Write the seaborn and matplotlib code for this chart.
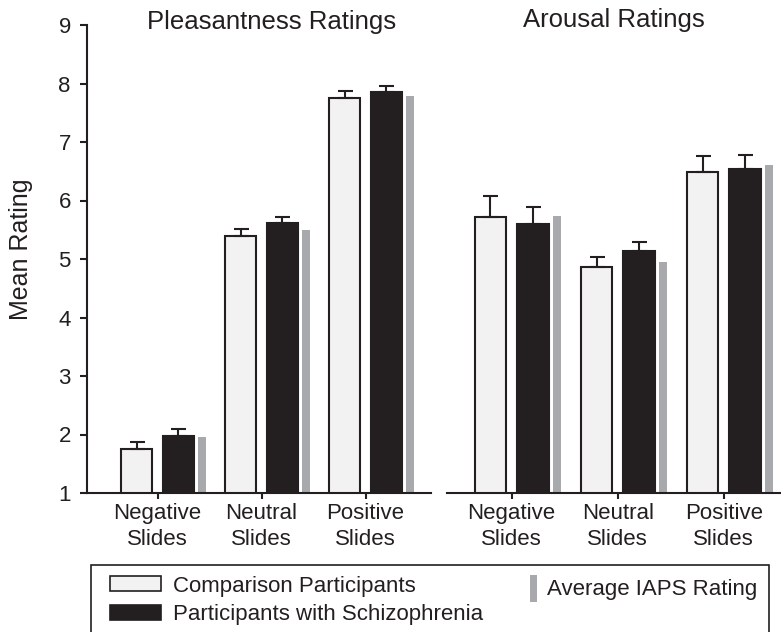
import numpy as np
import pandas as pd
import matplotlib
matplotlib.use("Agg")
import matplotlib.pyplot as plt
from matplotlib.patches import Rectangle
import seaborn as sns

# ---- data -----------------------------------------------------------------
slide_types = ["Negative\nSlides", "Neutral\nSlides", "Positive\nSlides"]
groups = ["Comparison Participants", "Participants with Schizophrenia"]
iaps_label = "Average IAPS Rating"

pleasant_comparison = [1.75, 5.40, 7.75]
pleasant_comparison_se = [0.13, 0.12, 0.13]
pleasant_schizophrenia = [1.98, 5.62, 7.85]
pleasant_schizophrenia_se = [0.11, 0.10, 0.11]
pleasant_iaps = [1.96, 5.50, 7.79]

arousal_comparison = [5.71, 4.87, 6.48]
arousal_comparison_se = [0.37, 0.16, 0.28]
arousal_schizophrenia = [5.59, 5.14, 6.54]
arousal_schizophrenia_se = [0.30, 0.15, 0.24]
arousal_iaps = [5.74, 4.95, 6.60]

y_ticks = [1, 2, 3, 4, 5, 6, 7, 8, 9]

# ---- style ----------------------------------------------------------------
sns.set_theme(style="white")
plt.rcParams["font.family"] = ["Liberation Sans", "DejaVu Sans"]

INK = "#231f20"
LIGHT = "#f1f2f1"
GREY = "#a7a9ac"
FS = 16

W, H = 781, 632
fig = plt.figure(figsize=(W / 100, H / 100), dpi=100)


def fx(px):
    return px / W


def fy(py):
    return 1 - py / H


ax_p = fig.add_axes([fx(87), fy(493), fx(431) - fx(87), fy(25) - fy(493)])
ax_a = fig.add_axes([fx(447), fy(493), fx(781) - fx(447), fy(25) - fy(493)])


def draw_panel(ax, comp, comp_se, schiz, schiz_se, iaps, xlim, show_y):
    df = pd.DataFrame({
        "slides": slide_types * 2,
        "group": [groups[0]] * 3 + [groups[1]] * 3,
        "rating": comp + schiz,
    })
    sns.barplot(data=df, x="slides", y="rating", hue="group",
                order=slide_types, hue_order=groups,
                palette=[LIGHT, INK], saturation=1, width=0.8, gap=0.25,
                errorbar=None, edgecolor=INK, linewidth=1.5,
                legend=False, ax=ax)

    # upward-only standard error bars on top of each group bar
    bars = [p for p in ax.patches if p.get_height() > 0]
    xs = [p.get_x() + p.get_width() / 2 for p in bars]
    tops = comp + schiz
    ses = comp_se + schiz_se
    ax.errorbar(xs, tops, yerr=[np.zeros(len(ses)), ses], fmt="none",
                ecolor=INK, elinewidth=1.5, capsize=5.4, capthick=1.5,
                zorder=1)

    # thin grey reference bars for the normative IAPS ratings
    ax.bar(np.arange(len(slide_types)) + 0.43, iaps, width=0.075,
           color=GREY, linewidth=0, zorder=2)

    ax.set_xlim(*xlim)
    ax.set_ylim(1, 9)
    ax.set_xlabel("")
    ax.set_xticks(range(len(slide_types)))
    ax.set_xticklabels(slide_types, fontsize=FS, color=INK)
    for lbl in ax.get_xticklabels():
        lbl.set_linespacing(1.28)
    ax.tick_params(axis="x", bottom=True, direction="out", length=4.5,
                   width=1.5, color=INK, pad=3)

    for side in ["top", "right"]:
        ax.spines[side].set_visible(False)
    ax.spines["bottom"].set_color(INK)
    ax.spines["bottom"].set_linewidth(1.5)
    if show_y:
        ax.spines["left"].set_color(INK)
        ax.spines["left"].set_linewidth(1.5)
        ax.set_yticks(y_ticks)
        ax.set_yticklabels([str(v) for v in y_ticks], fontsize=FS, color=INK)
        ax.tick_params(axis="y", left=True, direction="out", length=5.2,
                       width=1.5, color=INK, pad=6.5)
        ax.set_ylabel("Mean Rating", fontsize=18, color=INK)
        ax.yaxis.set_label_coords(-0.157, 0.521)
    else:
        ax.spines["left"].set_visible(False)
        ax.set_yticks([])
        ax.set_ylabel("")


draw_panel(ax_p, pleasant_comparison, pleasant_comparison_se,
           pleasant_schizophrenia, pleasant_schizophrenia_se, pleasant_iaps,
           (-0.68, 2.63), True)
draw_panel(ax_a, arousal_comparison, arousal_comparison_se,
           arousal_schizophrenia, arousal_schizophrenia_se, arousal_iaps,
           (-0.61, 2.54), False)

# panel titles
fig.text(fx(272), fy(29), "Pleasantness Ratings", fontsize=18.5, color=INK,
         ha="center", va="baseline")
fig.text(fx(614), fy(27), "Arousal Ratings", fontsize=18.5, color=INK,
         ha="center", va="baseline")

# ---- legend box -----------------------------------------------------------
tf = fig.transFigure
fig.add_artist(Rectangle((fx(91), fy(645)), fx(769) - fx(91), fy(565) - fy(645),
                         transform=tf, fill=False, edgecolor=INK, linewidth=1.2))
fig.add_artist(Rectangle((fx(110), fy(591)), fx(161) - fx(110), fy(576) - fy(591),
                         transform=tf, facecolor=LIGHT, edgecolor=INK, linewidth=1.2))
fig.add_artist(Rectangle((fx(110), fy(620)), fx(161) - fx(110), fy(605) - fy(620),
                         transform=tf, facecolor=INK, edgecolor=INK, linewidth=1.2))
fig.add_artist(Rectangle((fx(530), fy(602)), fx(537) - fx(530), fy(575) - fy(602),
                         transform=tf, facecolor=GREY, linewidth=0))
fig.text(fx(173), fy(592), groups[0], fontsize=FS, color=INK, va="baseline")
fig.text(fx(173), fy(620), groups[1], fontsize=FS, color=INK, va="baseline")
fig.text(fx(547), fy(595), iaps_label, fontsize=FS, color=INK, va="baseline")

fig.savefig("out.png", dpi=100)
